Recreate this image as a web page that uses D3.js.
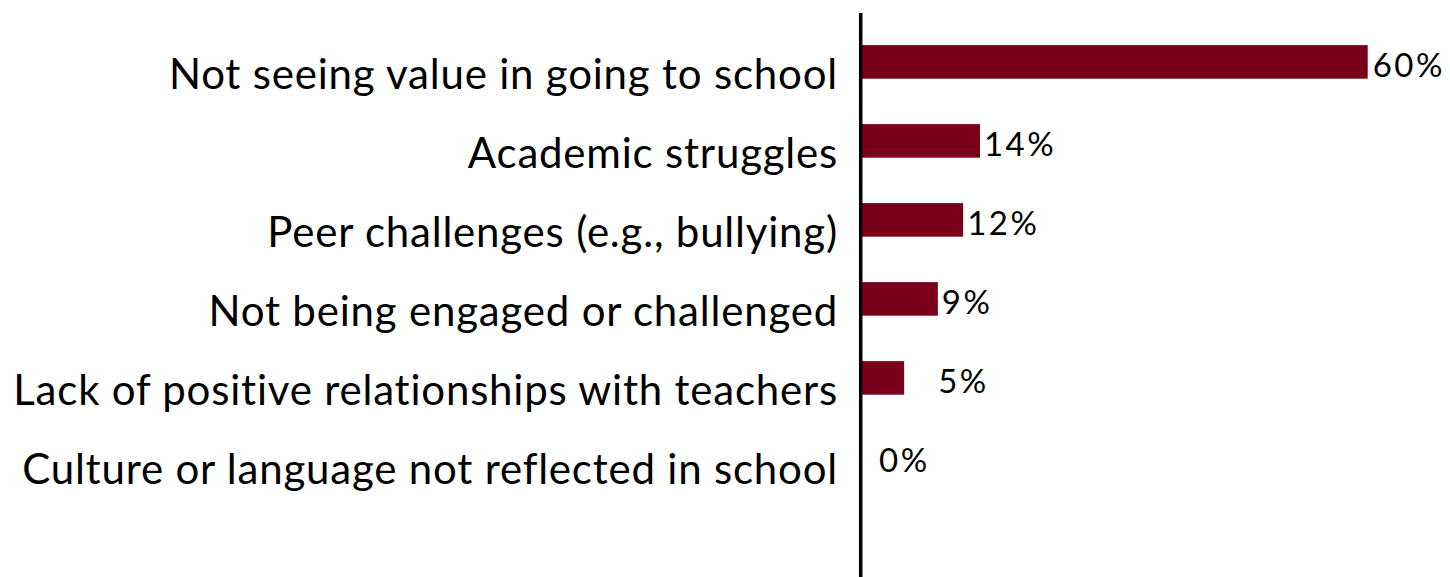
<!DOCTYPE html>
<html>
<head>
<meta charset="utf-8">
<script src="https://cdn.jsdelivr.net/npm/d3@7"></script>
<style>
  html, body { margin: 0; padding: 0; background: #ffffff; }
  svg { display: block; }
  text { font-family: Lato, "Open Sans", sans-serif; fill: #000; }
</style>
</head>
<body>
<svg id="chart" width="1450" height="577"></svg>
<script>
// Reasons given, in display order
const categories = [
  "Not seeing value in going to school",
  "Academic struggles",
  "Peer challenges (e.g., bullying)",
  "Not being engaged or challenged",
  "Lack of positive relationships with teachers",
  "Culture or language not reflected in school"
];
// Share of responses (%)
const values = [60, 14, 12, 9, 5, 0];
const valueLabels = ["60%", "14%", "12%", "9%", "5%", "0%"];

// Horizontal nudges for value labels (px from bar end)
const labelNudge = [5, 4, 4, 4, 34, 17];

const svg = d3.select("#chart");
const barColor = "#7a001a";

const x = d3.scaleLinear()
  .domain([0, d3.max(values)])
  .range([862, 1367.7]);

const y = d3.scaleBand()
  .domain(categories)
  .range([22.4, 496.4])
  .paddingInner(0.575)
  .paddingOuter(0.2875);

// Bars
svg.append("g")
  .selectAll("rect")
  .data(categories)
  .join("rect")
  .attr("x", x(0))
  .attr("y", d => y(d))
  .attr("width", (d, i) => x(values[i]) - x(0))
  .attr("height", y.bandwidth())
  .attr("fill", barColor);

// Category labels
svg.append("g")
  .selectAll("text")
  .data(categories)
  .join("text")
  .attr("x", 838)
  .attr("y", d => y(d) + y.bandwidth() / 2 + 27.5)
  .attr("text-anchor", "end")
  .attr("font-size", 42)
  .attr("letter-spacing", 0.8)
  .text(d => d);

// Value labels
svg.append("g")
  .selectAll("text")
  .data(categories)
  .join("text")
  .attr("x", (d, i) => x(values[i]) + labelNudge[i])
  .attr("y", d => y(d) + y.bandwidth() / 2 + 15.3)
  .attr("text-anchor", "start")
  .attr("font-size", 33)
  .attr("letter-spacing", 2.5)
  .text((d, i) => valueLabels[i]);

// Vertical baseline axis
svg.append("line")
  .attr("x1", 860.7).attr("x2", 860.7)
  .attr("y1", 13).attr("y2", 577)
  .attr("stroke", "#000")
  .attr("stroke-width", 3.5);
</script>
</body>
</html>
